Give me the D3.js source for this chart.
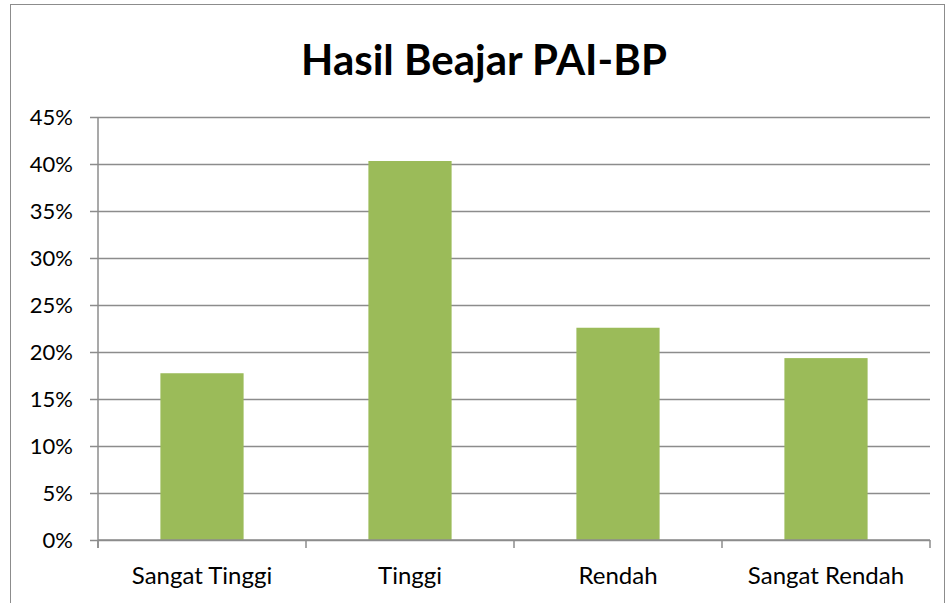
<!DOCTYPE html>
<html>
<head>
<meta charset="utf-8">
<script src="https://cdn.jsdelivr.net/npm/d3@7.9.0/dist/d3.min.js"></script>
<style>
  body { margin: 0; background: #fff; }
  svg { display: block; font-family: Lato, "Open Sans", sans-serif; }
</style>
</head>
<body>
<svg id="chart" width="949" height="603"></svg>
<script>
// chart data
const categories = ["Sangat Tinggi", "Tinggi", "Rendah", "Sangat Rendah"];
const values = [17.74, 40.32, 22.58, 19.35]; // percent
const yTicks = [0, 5, 10, 15, 20, 25, 30, 35, 40, 45];

const svg = d3.select("#chart");
const margin = { left: 98, right: 19, top: 117, bottom: 63 };
const W = 949, H = 603;

// outer chart border
svg.append("rect")
    .attr("x", 10.5).attr("y", 4.5)
    .attr("width", 934).attr("height", 640)
    .attr("fill", "none").attr("stroke", "#8c8c8c");

// title
svg.append("text")
    .attr("x", 484).attr("y", 75)
    .attr("text-anchor", "middle")
    .attr("font-size", 42).attr("font-weight", "bold")
    .attr("fill", "#000")
    .text("Hasil Beajar PAI-BP");

let x = d3.scaleBand()
    .domain(categories)
    .range([margin.left, W - margin.right])
    .paddingInner(0.6).paddingOuter(0.3);

let y = d3.scaleLinear()
    .domain([0, 45])
    .range([H - margin.bottom, margin.top]);

// gridlines + y ticks
let yAxis = svg.append("g")
    .attr("transform", `translate(${margin.left},0)`)
    .call(d3.axisLeft(y).tickValues(yTicks).tickFormat(d => d + "%")
        .tickSize(-(W - margin.right - margin.left)).tickPadding(25));
yAxis.select(".domain").remove();
yAxis.selectAll(".tick line")
    .attr("x1", -8)
    .attr("stroke", "#8c8c8c").attr("stroke-width", 1.5);
yAxis.selectAll(".tick text")
    .attr("font-size", 22).attr("fill", "#000")
    .style("font-family", "Lato, 'Open Sans', sans-serif");

// bars
svg.append("g").selectAll("rect")
    .data(values)
    .join("rect")
    .attr("x", (d, i) => x(categories[i]))
    .attr("y", d => y(d))
    .attr("width", x.bandwidth())
    .attr("height", d => y(0) - y(d))
    .attr("fill", "#9bbb59");

// y axis line
svg.append("line")
    .attr("x1", margin.left).attr("x2", margin.left)
    .attr("y1", margin.top).attr("y2", H - margin.bottom + 8)
    .attr("stroke", "#8c8c8c").attr("stroke-width", 1.5);

// x axis with boundary ticks
let step = x.step();
let bounds = d3.range(categories.length + 1).map(i => margin.left + i * step);
let xg = svg.append("g");
xg.append("line")
    .attr("x1", margin.left).attr("x2", W - margin.right)
    .attr("y1", y(0)).attr("y2", y(0))
    .attr("stroke", "#8c8c8c").attr("stroke-width", 1.5);
xg.selectAll(".bt")
    .data(bounds)
    .join("line")
    .attr("x1", d => d).attr("x2", d => d)
    .attr("y1", y(0)).attr("y2", y(0) + 8)
    .attr("stroke", "#8c8c8c").attr("stroke-width", 1.5);
xg.selectAll("text")
    .data(categories)
    .join("text")
    .attr("x", d => x(d) + x.bandwidth() / 2)
    .attr("y", y(0) + 44)
    .attr("text-anchor", "middle")
    .attr("font-size", 24).attr("fill", "#000")
    .text(d => d);
</script>
</body>
</html>
